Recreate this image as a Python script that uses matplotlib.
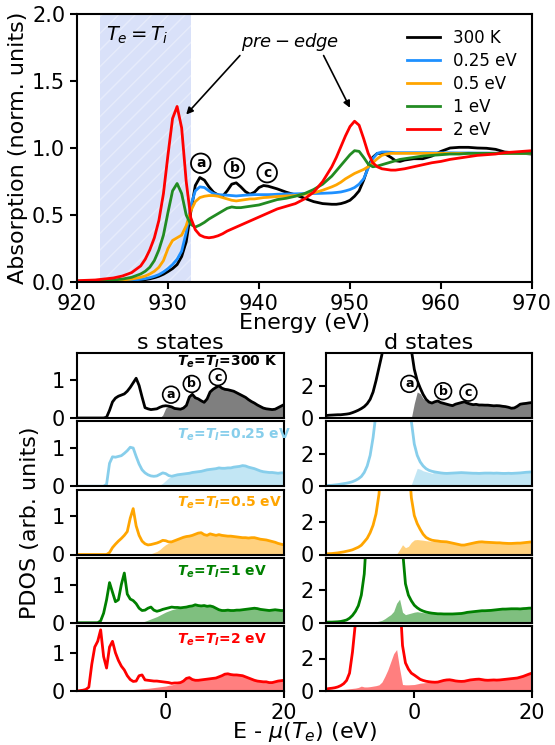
import numpy as np
import matplotlib
matplotlib.use("Agg")
import matplotlib.pyplot as plt

# ---------------- XAS (top panel) ----------------
xas_energy = [920, 922, 924, 925, 926, 927, 927.5, 928, 928.5, 929, 929.5, 930, 930.5, 931, 931.5, 932,
              932.5, 933, 933.5, 934, 934.5, 935, 935.5, 936, 936.5, 937, 937.5, 938, 938.5, 939, 939.5,
              940, 940.5, 941, 941.5, 942, 943, 944, 945, 946, 947, 948, 948.5, 949, 949.5, 950, 950.5,
              951, 951.5, 952, 952.5, 953, 953.5, 954, 954.5, 955, 955.5, 956, 957, 958, 959, 960, 961,
              962, 963, 964, 965, 966, 967, 968, 969, 970]
xas_300K = [0.001, 0.002, 0.004, 0.006, 0.009, 0.014, 0.018, 0.024, 0.032, 0.043, 0.058, 0.078, 0.1, 0.13,
            0.19, 0.3, 0.52, 0.72, 0.78, 0.76, 0.71, 0.67, 0.65, 0.64, 0.68, 0.73, 0.74, 0.71, 0.675, 0.655,
            0.67, 0.705, 0.72, 0.715, 0.705, 0.695, 0.67, 0.65, 0.625, 0.6, 0.585, 0.58, 0.58, 0.585, 0.595,
            0.61, 0.64, 0.68, 0.76, 0.86, 0.93, 0.96, 0.96, 0.95, 0.93, 0.905, 0.9, 0.91, 0.92, 0.92, 0.94,
            0.975, 1.0, 1.005, 1.005, 1.0, 0.998, 0.99, 0.97, 0.965, 0.96, 0.955]
xas_025 = [0.002, 0.003, 0.006, 0.009, 0.013, 0.02, 0.025, 0.032, 0.042, 0.055, 0.075, 0.1, 0.13, 0.17,
           0.23, 0.37, 0.57, 0.68, 0.71, 0.705, 0.68, 0.66, 0.652, 0.65, 0.648, 0.645, 0.642, 0.645, 0.648,
           0.65, 0.652, 0.652, 0.652, 0.652, 0.653, 0.655, 0.657, 0.658, 0.66, 0.66, 0.662, 0.665, 0.668,
           0.672, 0.68, 0.69, 0.705, 0.73, 0.77, 0.85, 0.92, 0.96, 0.97, 0.97, 0.968, 0.965, 0.965, 0.965,
           0.965, 0.965, 0.965, 0.964, 0.964, 0.963, 0.963, 0.962, 0.962, 0.961, 0.96, 0.96, 0.96, 0.958]
xas_05 = [0.003, 0.005, 0.01, 0.015, 0.022, 0.035, 0.045, 0.06, 0.08, 0.11, 0.16, 0.25, 0.31, 0.33, 0.35,
          0.42, 0.53, 0.6, 0.63, 0.64, 0.645, 0.645, 0.64, 0.63, 0.62, 0.61, 0.605, 0.61, 0.615, 0.62, 0.62,
          0.625, 0.63, 0.632, 0.635, 0.638, 0.642, 0.645, 0.655, 0.665, 0.685, 0.71, 0.725, 0.745, 0.77,
          0.79, 0.81, 0.825, 0.84, 0.86, 0.89, 0.92, 0.945, 0.955, 0.96, 0.96, 0.96, 0.96, 0.96, 0.96, 0.96,
          0.96, 0.96, 0.96, 0.96, 0.96, 0.96, 0.96, 0.96, 0.96, 0.96, 0.96]
xas_1 = [0.005, 0.008, 0.015, 0.022, 0.035, 0.06, 0.08, 0.11, 0.16, 0.24, 0.35, 0.52, 0.68, 0.735, 0.66,
         0.5, 0.43, 0.41, 0.425, 0.445, 0.47, 0.49, 0.51, 0.53, 0.55, 0.56, 0.555, 0.555, 0.56, 0.565, 0.57,
         0.575, 0.585, 0.595, 0.605, 0.615, 0.625, 0.64, 0.66, 0.69, 0.73, 0.79, 0.83, 0.87, 0.91, 0.95,
         0.98, 0.975, 0.93, 0.88, 0.86, 0.865, 0.875, 0.885, 0.895, 0.905, 0.915, 0.92, 0.93, 0.94, 0.945,
         0.95, 0.955, 0.955, 0.96, 0.96, 0.96, 0.96, 0.96, 0.96, 0.96, 0.96]
xas_2 = [0.01, 0.015, 0.03, 0.045, 0.07, 0.12, 0.17, 0.24, 0.33, 0.46, 0.66, 0.95, 1.22, 1.31, 1.15, 0.75,
         0.48, 0.39, 0.35, 0.335, 0.33, 0.335, 0.345, 0.36, 0.38, 0.395, 0.41, 0.425, 0.44, 0.455, 0.47,
         0.485, 0.5, 0.515, 0.53, 0.545, 0.565, 0.585, 0.62, 0.67, 0.75, 0.86, 0.93, 1.01, 1.09, 1.16, 1.2,
         1.17, 1.07, 0.96, 0.89, 0.86, 0.845, 0.84, 0.835, 0.835, 0.84, 0.845, 0.86, 0.875, 0.89, 0.9,
         0.915, 0.925, 0.935, 0.945, 0.95, 0.955, 0.965, 0.97, 0.975, 0.98]
xas_labels = ['300 K', '0.25 eV', '0.5 eV', '1 eV', '2 eV']
xas_colors = ['black', '#1e90ff', 'orange', 'forestgreen', 'red']

# ---------------- PDOS (bottom panels), energy grid -15 .. 20 eV, step 0.5 ----------------
pdos_energy = np.arange(-15, 20.001, 0.5)

s_300K = [0] * 10 + [0.02, 0.2, 0.42, 0.52, 0.57, 0.6, 0.63, 0.7, 0.8, 0.92, 1.04, 0.85, 0.55, 0.27, 0.24,
                     0.22, 0.23, 0.24, 0.28, 0.31, 0.32, 0.31, 0.29, 0.25, 0.24, 0.23, 0.26, 0.33, 0.55,
                     0.62, 0.53, 0.5, 0.45, 0.41, 0.5, 0.68, 0.75, 0.8, 0.84, 0.78, 0.75, 0.74, 0.72, 0.7,
                     0.66, 0.62, 0.58, 0.54, 0.48, 0.43, 0.39, 0.34, 0.3, 0.26, 0.24, 0.23, 0.22, 0.23,
                     0.27, 0.31, 0.35]
s_025 = [0] * 10 + [0.05, 0.6, 0.77, 0.76, 0.78, 0.8, 0.86, 0.93, 1.02, 1.0, 0.78, 0.58, 0.43, 0.35, 0.3,
                    0.27, 0.26, 0.27, 0.31, 0.35, 0.33, 0.28, 0.26, 0.28, 0.3, 0.31, 0.32, 0.33, 0.34, 0.36,
                    0.37, 0.38, 0.39, 0.41, 0.43, 0.44, 0.45, 0.46, 0.48, 0.47, 0.47, 0.48, 0.48, 0.5, 0.51,
                    0.52, 0.54, 0.53, 0.5, 0.48, 0.46, 0.43, 0.4, 0.38, 0.37, 0.36, 0.36, 0.35, 0.34, 0.35,
                    0.35]
s_05 = [0] * 11 + [0.05, 0.18, 0.27, 0.35, 0.42, 0.5, 0.6, 0.95, 1.2, 0.75, 0.5, 0.35, 0.28, 0.25, 0.26,
                   0.28, 0.3, 0.33, 0.37, 0.36, 0.33, 0.33, 0.36, 0.39, 0.42, 0.45, 0.47, 0.48, 0.5, 0.53,
                   0.56, 0.57, 0.52, 0.5, 0.54, 0.52, 0.5, 0.52, 0.5, 0.49, 0.48, 0.48, 0.47, 0.46, 0.45,
                   0.44, 0.44, 0.43, 0.44, 0.44, 0.42, 0.4, 0.39, 0.38, 0.36, 0.34, 0.32, 0.29, 0.27, 0.25]
s_1 = [0] * 8 + [0.05, 0.25, 0.6, 1.05, 0.8, 0.55, 0.6, 1.0, 1.3, 0.75, 0.62, 0.58, 0.5, 0.38, 0.32, 0.33,
                 0.38, 0.41, 0.33, 0.3, 0.32, 0.35, 0.37, 0.39, 0.41, 0.4, 0.4, 0.39, 0.4, 0.41, 0.43, 0.44,
                 0.47, 0.45, 0.44, 0.45, 0.43, 0.44, 0.42, 0.38, 0.34, 0.32, 0.32, 0.33, 0.32, 0.32, 0.33,
                 0.33, 0.34, 0.35, 0.36, 0.37, 0.38, 0.37, 0.35, 0.34, 0.33, 0.32, 0.33, 0.34, 0.33, 0.32,
                 0.32]
s_2 = [0, 0.01, 0.02, 0.04, 0.1, 0.7, 1.15, 1.3, 1.6, 0.9, 0.6, 1.15, 1.3, 1.0, 0.8, 0.65, 0.55, 0.4, 0.3,
       0.25, 0.26, 0.4, 0.42, 0.29, 0.28, 0.27, 0.26, 0.26, 0.25, 0.24, 0.23, 0.22, 0.2, 0.21, 0.21, 0.22,
       0.26, 0.33, 0.35, 0.3, 0.28, 0.28, 0.29, 0.3, 0.31, 0.32, 0.33, 0.34, 0.37, 0.4, 0.44, 0.45, 0.43,
       0.42, 0.42, 0.41, 0.4, 0.37, 0.34, 0.31, 0.28, 0.26, 0.25, 0.24, 0.24, 0.22, 0.22, 0.24, 0.26, 0.27,
       0.28]

d_300K = [0.15, 0.17, 0.18, 0.19, 0.2, 0.2, 0.22, 0.24, 0.27, 0.33, 0.4, 0.48, 0.58, 0.7, 0.88, 1.15, 1.6,
          2.3, 3.1, 3.9] + [6] * 9 + [4.2, 3.0, 2.3, 1.85, 1.45, 1.15, 0.98, 0.92, 1.0, 1.05, 0.95, 0.9,
                                      0.85, 0.8, 0.76, 0.85, 0.9, 0.95, 1.0, 0.92, 0.86, 0.82, 0.84, 0.8,
                                      0.8, 0.79, 0.79, 0.77, 0.75, 0.76, 0.75, 0.72, 0.7, 0.66, 0.6, 0.62,
                                      0.72, 0.85, 0.88, 0.9, 0.93, 0.95]
d_025 = [0.04, 0.05, 0.06, 0.08, 0.1, 0.13, 0.16, 0.19, 0.23, 0.28, 0.36, 0.46, 0.6, 0.85, 1.25, 1.9, 3.0,
         4.5] + [6] * 11 + [4.0, 2.6, 1.9, 1.5, 1.25, 1.08, 0.98, 0.92, 0.88, 0.85, 0.82, 0.8, 0.79, 0.8,
                            0.81, 0.82, 0.83, 0.84, 0.83, 0.82, 0.81, 0.8, 0.8, 0.79, 0.8, 0.81, 0.81, 0.81,
                            0.8, 0.81, 0.8, 0.79, 0.79, 0.8, 0.79, 0.8, 0.81, 0.82, 0.84, 0.86, 0.87, 0.89]
d_05 = [0.04, 0.05, 0.06, 0.08, 0.1, 0.13, 0.16, 0.2, 0.24, 0.29, 0.37, 0.45, 0.57, 0.78, 1.0, 1.34, 1.8,
        2.5, 3.7] + [6] * 10 + [3.5, 2.4, 1.9, 1.55, 1.25, 1.05, 0.95, 0.88, 0.85, 0.83, 0.8, 0.79, 0.78,
                                0.74, 0.7, 0.66, 0.62, 0.58, 0.58, 0.62, 0.66, 0.7, 0.74, 0.77, 0.78, 0.76,
                                0.75, 0.74, 0.73, 0.72, 0.72, 0.7, 0.69, 0.68, 0.68, 0.69, 0.7, 0.7, 0.72,
                                0.74, 0.76, 0.78]
d_1 = [0.03, 0.04, 0.04, 0.05, 0.06, 0.08, 0.12, 0.17, 0.28, 0.45, 0.7, 1.05, 1.7, 3.0] + [6] * 12 + \
      [4.5, 2.4, 1.7, 1.35, 1.08, 0.92, 0.8, 0.72, 0.66, 0.62, 0.59, 0.57, 0.55, 0.55, 0.54, 0.54, 0.54,
       0.54, 0.55, 0.56, 0.57, 0.6, 0.64, 0.66, 0.68, 0.7, 0.72, 0.74, 0.74, 0.75, 0.76, 0.78, 0.8, 0.82,
       0.84, 0.84, 0.85, 0.86, 0.86, 0.86, 0.85, 0.87, 0.88, 0.9, 0.9]
d_2 = [0.12, 0.15, 0.17, 0.2, 0.25, 0.33, 0.45, 0.65, 1.1, 2.4, 4.2] + [6] * 15 + \
      [2.8, 1.73, 1.35, 1.1, 0.98, 0.85, 0.72, 0.65, 0.6, 0.57, 0.55, 0.54, 0.55, 0.6, 0.65, 0.68, 0.69,
       0.66, 0.62, 0.6, 0.59, 0.6, 0.64, 0.68, 0.7, 0.72, 0.73, 0.7, 0.67, 0.66, 0.67, 0.68, 0.67, 0.68,
       0.7, 0.72, 0.74, 0.76, 0.78, 0.8, 0.85, 0.9, 0.97, 1.04, 1.1]

# shaded (unoccupied) part: values read below the curve; above the listed range it follows the curve
s_fill_300K = [0] * 29 + [0.08, 0.26]
s_fill_025 = [0] * 28 + [0.03, 0.08, 0.15, 0.22, 0.25]
s_fill_05 = [0] * 25 + [0.02, 0.05, 0.08, 0.13, 0.2, 0.26, 0.3]
s_fill_1 = [0] * 22 + [0.02, 0.04, 0.07, 0.1, 0.13, 0.16, 0.2, 0.24, 0.28, 0.31, 0.34, 0.36, 0.38, 0.38,
                       0.39]
s_fill_2 = [0] * 10 + [0.005, 0.008, 0.01, 0.013, 0.016, 0.02, 0.025, 0.03, 0.035, 0.04, 0.045, 0.05,
                       0.06, 0.065, 0.07, 0.08, 0.09, 0.1, 0.11, 0.12, 0.13, 0.15, 0.16, 0.18, 0.19, 0.21]
d_fill_300K = [0] * 30 + [0.9, 1.6, 1.5, 1.2, 1.05, 0.95]
d_fill_025 = [0] * 29 + [0.1, 0.6, 1.1, 1.05, 0.95, 0.9, 0.85, 0.8]
d_fill_05 = [0] * 24 + [0.03, 0.3, 0.6, 0.42, 0.5, 0.75, 0.9, 0.92, 0.9, 0.88, 0.85, 0.83, 0.8]
d_fill_1 = [0] * 15 + [0.01, 0.03, 0.06, 0.1, 0.15, 0.25, 0.38, 0.5, 0.7, 1.2, 1.45, 0.65, 0.5, 0.55, 0.6,
                       0.65, 0.68, 0.65, 0.62, 0.6, 0.58, 0.57]
d_fill_2 = [0] * 4 + [0.04, 0.07, 0.1, 0.12, 0.14, 0.16, 0.18, 0.22, 0.3, 0.25, 0.25, 0.27, 0.3, 0.33,
                      0.38, 0.55, 0.9, 1.3, 1.8, 2.3, 2.55, 1.4, 0.4, 0.38, 0.38, 0.39, 0.4, 0.44, 0.48,
                      0.5, 0.52, 0.54, 0.55]

pdos_colors = ['black', 'skyblue', 'orange', 'green', 'red']
pdos_labels = ['300 K', '0.25 eV', '0.5 eV', '1 eV', '2 eV']
s_lines = [s_300K, s_025, s_05, s_1, s_2]
d_lines = [d_300K, d_025, d_05, d_1, d_2]
s_fills = [s_fill_300K, s_fill_025, s_fill_05, s_fill_1, s_fill_2]
d_fills = [d_fill_300K, d_fill_025, d_fill_05, d_fill_1, d_fill_2]

plt.rcParams['axes.linewidth'] = 1.5
plt.rcParams['xtick.major.width'] = 1.5
plt.rcParams['ytick.major.width'] = 1.5
plt.rcParams['xtick.major.size'] = 5
plt.rcParams['ytick.major.size'] = 5
plt.rcParams['hatch.linewidth'] = 1.0

W, H = 555, 745
fig = plt.figure(figsize=(W / 100, H / 100), dpi=100)


def rect(x0, y0, x1, y1):
    return [x0 / W, (H - y1) / H, (x1 - x0) / W, (y1 - y0) / H]


# ---------------- top axes ----------------
ax = fig.add_axes(rect(77, 14, 532, 282))
ax.axvspan(922.5, 932.5, facecolor=(0.255, 0.412, 0.882, 0.2), edgecolor=(1, 1, 1, 0.35),
           hatch='//', linewidth=0)
for vals, lab, col in zip([xas_300K, xas_025, xas_05, xas_1, xas_2], xas_labels, xas_colors):
    ax.plot(xas_energy, vals, color=col, lw=2, label=lab)
ax.set_xlim(920, 970)
ax.set_ylim(0, 2.0)
ax.set_xticks([920, 930, 940, 950, 960, 970])
ax.set_yticks([0.0, 0.5, 1.0, 1.5, 2.0])
ax.tick_params(labelsize=15)
ax.set_xlabel('Energy (eV)', fontsize=16)
ax.set_ylabel('Absorption (norm. units)', fontsize=16)
ax.xaxis.set_label_coords(0.5, -0.115)
ax.yaxis.set_label_coords(-0.108, 0.5)
ax.legend(loc='upper right', frameon=False, fontsize=12, labelspacing=0.3)
ax.text(923.2, 1.84, r'$T_e = T_i$', fontsize=14, ha='left', va='center')
ax.text(943.4, 1.79, r'$pre-edge$', fontsize=13, ha='center', va='center')
arrow = dict(arrowstyle='-|>', color='black', lw=1.2, mutation_scale=10, shrinkA=0, shrinkB=0)
ax.annotate('', xy=(932.0, 1.25), xytext=(937.9, 1.69), arrowprops=arrow)
ax.annotate('', xy=(950.0, 1.30), xytext=(947.1, 1.69), arrowprops=arrow)
circ = dict(boxstyle='circle,pad=0.2', fc='white', ec='black', lw=1.3)
for lab, (xx, yy) in zip(['a', 'b', 'c'], [(933.6, 0.886), (937.3, 0.85), (940.9, 0.816)]):
    ax.text(xx, yy, lab, fontsize=10, fontweight='bold', ha='center', va='center', bbox=circ, zorder=5)

# ---------------- bottom panels ----------------
row_top = [353 + i * 68.25 for i in range(5)]
circ_s = dict(boxstyle='circle,pad=0.15', fc='white', ec='black', lw=1.2)
for i in range(5):
    y0 = row_top[i]
    y1 = y0 + 65
    axs = fig.add_axes(rect(77, y0, 284, y1))
    axd = fig.add_axes(rect(326, y0, 532, y1))
    col = pdos_colors[i]
    for a, line, fl, ylim, yt in [(axs, s_lines[i], s_fills[i], 1.7, [0, 1]),
                                  (axd, d_lines[i], d_fills[i], 4.0, [0, 2])]:
        line = np.array(line, dtype=float)
        fill = np.concatenate([np.array(fl, dtype=float), line[len(fl):]])
        a.fill_between(pdos_energy, 0, fill, color=col, alpha=0.5, lw=0)
        a.plot(pdos_energy, line, color=col, lw=2)
        a.set_xlim(-15, 20)
        a.set_ylim(0, ylim)
        a.set_yticks(yt)
        a.set_xticks([0, 20])
        a.tick_params(labelsize=15)
        if i < 4:
            a.tick_params(bottom=False, labelbottom=False)
    txt = r'$\mathbfit{T_e}$=$\mathbfit{T_I}$=' + pdos_labels[i]
    ty = 0.87 if i == 0 else 0.79
    axs.text(0.483, ty, txt, color=col, fontsize=10, fontweight='bold', ha='left', va='center',
             transform=axs.transAxes)
    if i == 0:
        for lab, (xx, yy) in zip(['a', 'b', 'c'], [(0.9, 0.61), (4.4, 0.89), (8.8, 1.07)]):
            axs.text(xx, yy, lab, fontsize=9, fontweight='bold', ha='center', va='center', bbox=circ_s,
                     zorder=5)
        for lab, (xx, yy) in zip(['a', 'b', 'c'], [(-0.85, 2.1), (4.9, 1.65), (9.2, 1.56)]):
            axd.text(xx, yy, lab, fontsize=9, fontweight='bold', ha='center', va='center', bbox=circ_s,
                     zorder=5)

fig.text(180 / W, (H - 343) / H, 's states', fontsize=16, ha='center', va='center')
fig.text(429 / W, (H - 343) / H, 'd states', fontsize=16, ha='center', va='center')
fig.text(30 / W, (H - 523) / H, 'PDOS (arb. units)', fontsize=16, ha='center', va='center', rotation=90)
fig.text(304 / W, (H - 732) / H, r'E - $\mu(T_e)$ (eV)', fontsize=16, ha='center', va='center')

fig.savefig('out.png', dpi=100)
